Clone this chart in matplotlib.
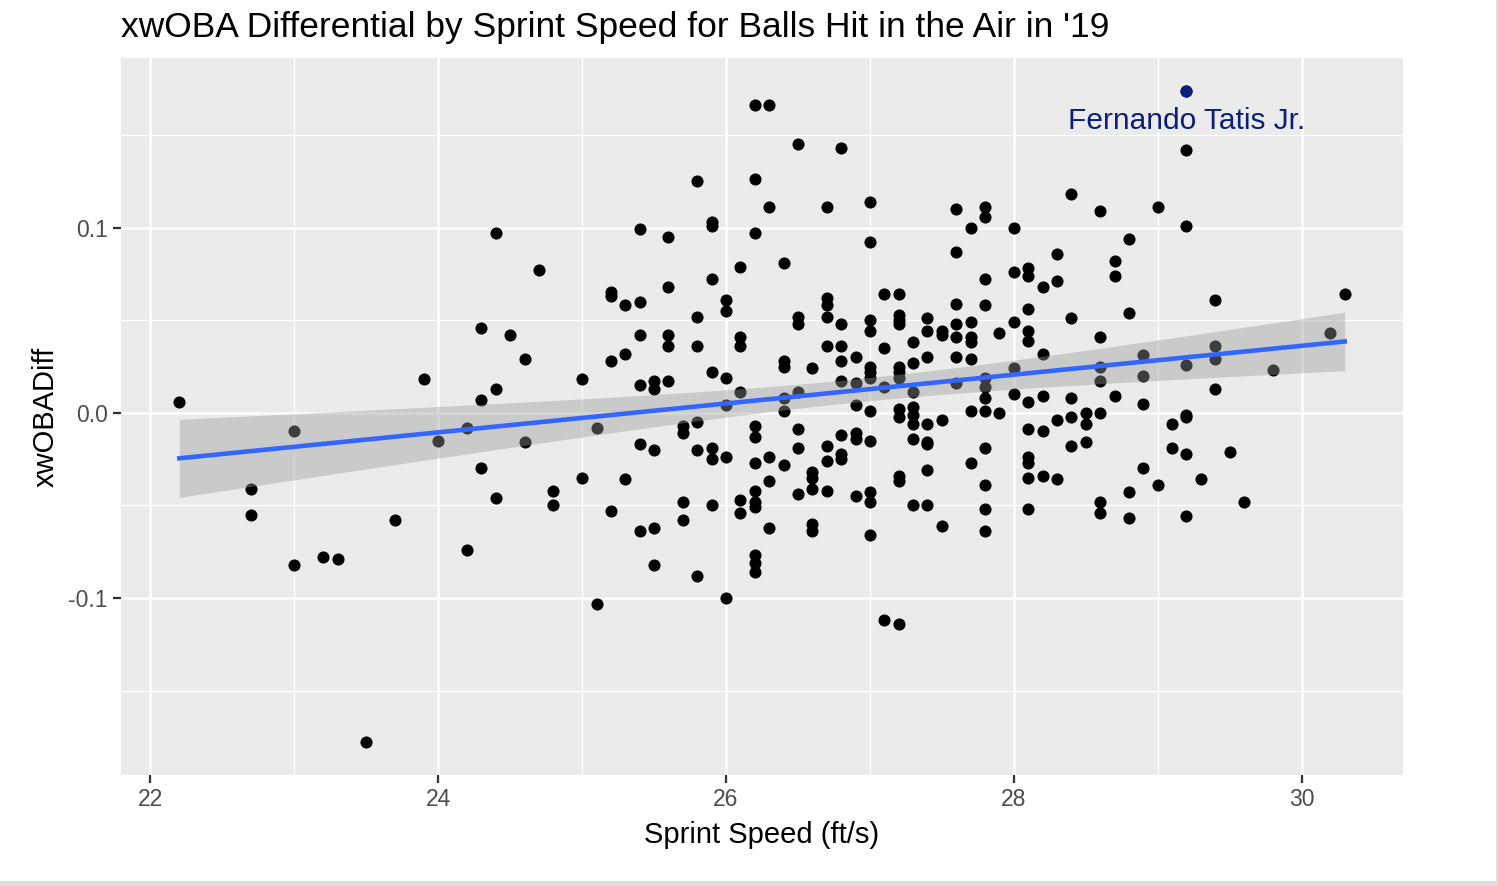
import numpy as np
import matplotlib
matplotlib.use("Agg")
import matplotlib.pyplot as plt
from matplotlib.patches import Rectangle

plt.rcParams['font.family'] = ['Liberation Sans', 'DejaVu Sans']

# ---- data: sprint speed (ft/s) groups and xwOBA differential values ----
speed_groups = [22.2, 22.7, 23.0, 23.2, 23.3, 23.5, 23.7, 23.9, 24.0, 24.2,
                24.3, 24.4, 24.5, 24.6, 24.7, 24.8, 25.0, 25.1, 25.2, 25.3,
                25.4, 25.5, 25.6, 25.7, 25.8, 25.9, 26.0, 26.1, 26.2, 26.3,
                26.4, 26.5, 26.6, 26.7, 26.8, 26.9, 27.0, 27.1, 27.2, 27.3,
                27.4, 27.5, 27.6, 27.7, 27.8, 27.9, 28.0, 28.1, 28.2, 28.3,
                28.4, 28.5, 28.6, 28.7, 28.8, 28.9, 29.0, 29.1, 29.2, 29.3,
                29.4, 29.5, 29.6, 29.8, 30.2, 30.3]
diff_groups = [
    [0.006],
    [-0.041, -0.055],
    [-0.010, -0.082],
    [-0.078],
    [-0.079],
    [-0.178],
    [-0.058],
    [0.018],
    [-0.015],
    [-0.008, -0.074],
    [0.046, 0.007, -0.030],
    [0.097, 0.013, -0.046],
    [0.042],
    [0.029, -0.016],
    [0.077],
    [-0.042, -0.050],
    [0.018, -0.035],
    [-0.008, -0.103],
    [0.065, 0.063, 0.028, -0.053],
    [0.058, 0.032, -0.036],
    [0.099, 0.060, 0.042, 0.015, -0.017, -0.064],
    [0.017, 0.013, -0.020, -0.062, -0.082],
    [0.095, 0.068, 0.042, 0.036, 0.017],
    [-0.007, -0.011, -0.048, -0.058],
    [0.125, 0.052, 0.036, -0.005, -0.020, -0.088],
    [0.103, 0.101, 0.072, 0.022, -0.019, -0.025, -0.050],
    [0.061, 0.055, 0.019, 0.004, -0.024, -0.100],
    [0.079, 0.041, 0.036, 0.011, -0.047, -0.054],
    [0.166, 0.126, 0.097, -0.007, -0.013, -0.027, -0.042, -0.048, -0.051,
     -0.077, -0.081, -0.086],
    [0.166, 0.111, -0.024, -0.037, -0.062],
    [0.081, 0.028, 0.025, 0.008, 0.001, -0.028],
    [0.145, 0.052, 0.048, 0.011, -0.009, -0.019, -0.044],
    [0.024, -0.032, -0.035, -0.041, -0.060, -0.064],
    [0.111, 0.062, 0.058, 0.052, 0.036, -0.018, -0.026, -0.042],
    [0.143, 0.048, 0.036, 0.028, 0.017, -0.012, -0.022, -0.025],
    [0.030, 0.016, 0.004, -0.011, -0.014, -0.045],
    [0.114, 0.092, 0.050, 0.044, 0.025, 0.022, 0.019, 0.001, -0.015, -0.043,
     -0.048, -0.066],
    [0.064, 0.035, 0.014, -0.112],
    [0.064, 0.053, 0.050, 0.048, 0.025, 0.022, 0.019, 0.002, -0.002, -0.034,
     -0.037, -0.114],
    [0.038, 0.027, 0.011, 0.003, -0.001, -0.006, -0.014, -0.050],
    [0.051, 0.044, 0.030, -0.006, -0.016, -0.017, -0.031, -0.050],
    [0.044, 0.042, -0.004, -0.061],
    [0.110, 0.087, 0.059, 0.048, 0.041, 0.030, 0.016],
    [0.100, 0.049, 0.041, 0.038, 0.029, 0.001, -0.027],
    [0.111, 0.106, 0.072, 0.058, 0.019, 0.014, 0.008, 0.001, -0.019, -0.039,
     -0.052, -0.064],
    [0.043, 0.000],
    [0.100, 0.076, 0.049, 0.024, 0.010],
    [0.078, 0.074, 0.056, 0.044, 0.039, 0.006, -0.009, -0.024, -0.027,
     -0.035, -0.052],
    [0.068, 0.032, 0.009, -0.010, -0.034],
    [0.086, 0.071, -0.004, -0.036],
    [0.118, 0.051, 0.008, -0.002, -0.018],
    [0.000, -0.006, -0.016],
    [0.109, 0.041, 0.025, 0.017, 0.000, -0.048, -0.054],
    [0.082, 0.074, 0.009],
    [0.094, 0.054, -0.043, -0.057],
    [0.031, 0.020, 0.005, -0.030],
    [0.111, -0.039],
    [-0.006, -0.019],
    [0.174, 0.142, 0.101, 0.026, -0.001, -0.002, -0.022, -0.056],
    [-0.036],
    [0.061, 0.036, 0.029, 0.013],
    [-0.021],
    [-0.048],
    [0.023],
    [0.043],
    [0.064],
]

highlight_name = "Fernando Tatis Jr."
highlight_x = 29.2
highlight_y = 0.174

x_ticks = [22, 24, 26, 28, 30]
y_ticks = [-0.1, 0.0, 0.1]
y_tick_labels = ["-0.1", "0.0", "0.1"]

title = "xwOBA Differential by Sprint Speed for Balls Hit in the Air in '19"
x_label = "Sprint Speed (ft/s)"
y_label = "xwOBADiff"

# ---- flatten ----
xs = np.array([s for s, g in zip(speed_groups, diff_groups) for _ in g])
ys = np.array([v for g in diff_groups for v in g])

# ---- linear fit with 95% CI ----
n = len(xs)
b1, b0 = np.polyfit(xs, ys, 1)
resid = ys - (b0 + b1 * xs)
s = np.sqrt(np.sum(resid ** 2) / (n - 2))
xbar = xs.mean()
sxx = np.sum((xs - xbar) ** 2)
xf = np.linspace(xs.min(), xs.max(), 80)
yf = b0 + b1 * xf
se = s * np.sqrt(1.0 / n + (xf - xbar) ** 2 / sxx)
tq = 1.968
lo, hi = yf - tq * se, yf + tq * se

# ---- figure ----
W, H = 1498, 886
fig = plt.figure(figsize=(W / 100, H / 100), dpi=100)
# light grey outer border (right and bottom edges)
fig.patches.append(Rectangle((1496 / W, 0), 2 / W, 1, transform=fig.transFigure,
                             facecolor='#DDDDDD', edgecolor='none', zorder=0))
fig.patches.append(Rectangle((0, 0), 1, 5 / H, transform=fig.transFigure,
                             facecolor='#DDDDDD', edgecolor='none', zorder=0))

ax = fig.add_axes([121 / W, 1 - 775 / H, (1403 - 121) / W, (775 - 58) / H])
ax.set_facecolor('#EBEBEB')

xr = xs.max() - xs.min()
yr = ys.max() - ys.min()
ax.set_xlim(xs.min() - 0.05 * xr, xs.max() + 0.05 * xr)
ax.set_ylim(ys.min() - 0.05 * yr, ys.max() + 0.05 * yr)

ax.set_xticks(x_ticks)
ax.set_xticks([23, 25, 27, 29], minor=True)
ax.set_yticks(y_ticks)
ax.set_yticklabels(y_tick_labels)
ax.set_yticks([-0.15, -0.05, 0.05, 0.15], minor=True)
ax.grid(which='major', color='white', linewidth=1.8)
ax.grid(which='minor', color='white', linewidth=0.9)
ax.set_axisbelow(True)
for sp in ax.spines.values():
    sp.set_visible(False)
ax.tick_params(which='major', length=5.5, width=1.6, color='#333333',
               labelsize=16.5, labelcolor='#4D4D4D', pad=4)
ax.tick_params(which='minor', length=0)

ax.scatter(xs, ys, s=76, color='black', linewidths=0, zorder=2)
ax.fill_between(xf, lo, hi, color='#999999', alpha=0.4, linewidth=0, zorder=3)
ax.plot(xf, yf, color='#3366FF', linewidth=3.3, zorder=4)
ax.scatter([highlight_x], [highlight_y], s=76, color='#0A1E7D', linewidths=0, zorder=5)
ax.text(highlight_x, highlight_y - 0.0163, highlight_name, color='#0A1E7D',
        fontsize=21.5, ha='center', va='center', zorder=6)

ax.set_xlabel(x_label, fontsize=21, color='black', labelpad=7)
ax.set_ylabel(y_label, fontsize=21, color='black', labelpad=6)
fig.text(121 / W, 1 - 28 / H, title, fontsize=25.5, color='black',
         ha='left', va='center')

fig.savefig('out.png', dpi=100, facecolor='white')
